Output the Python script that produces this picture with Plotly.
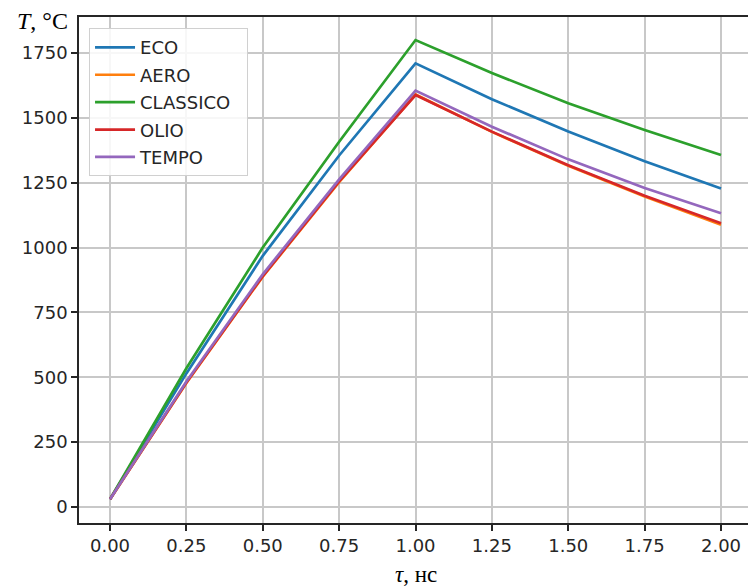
import plotly.graph_objects as go

tau = [0.0, 0.25, 0.5, 0.75, 1.0, 1.25, 1.5, 1.75, 2.0]

names = ["ECO", "AERO", "CLASSICO", "OLIO", "TEMPO"]
colors = ["#1f77b4", "#ff7f0e", "#2ca02c", "#d62728", "#9467bd"]

eco = [30, 515, 968, 1355, 1710, 1572, 1447, 1333, 1228]
aero = [30, 478, 888, 1252, 1590, 1446, 1315, 1197, 1088]
classico = [30, 535, 1000, 1408, 1800, 1673, 1556, 1453, 1357]
olio = [30, 480, 890, 1255, 1588, 1447, 1317, 1200, 1094]
tempo = [30, 484, 897, 1263, 1605, 1466, 1340, 1230, 1132]

series = [eco, aero, classico, olio, tempo]

x_ticks = [0.0, 0.25, 0.5, 0.75, 1.0, 1.25, 1.5, 1.75, 2.0]
x_tick_labels = ["0.00", "0.25", "0.50", "0.75", "1.00", "1.25", "1.50", "1.75", "2.00"]
y_ticks = [0, 250, 500, 750, 1000, 1250, 1500, 1750]
y_tick_labels = [str(v) for v in y_ticks]

fig = go.Figure()
for i, (n, c, s) in enumerate(zip(names, colors, series)):
    fig.add_trace(go.Scatter(x=tau, y=s, mode="lines", name=n + "  ",
                             line=dict(color=c, width=2.7),
                             legendgroup=f"g{i}"))

tick_font = dict(family="DejaVu Sans", size=18, color="#262626")

fig.update_layout(
    width=748, height=587,
    margin=dict(l=79, r=0, t=17, b=64),
    plot_bgcolor="white", paper_bgcolor="white",
    showlegend=True,
    legend=dict(x=0.015, y=0.978, xanchor="left", yanchor="top",
                bgcolor="rgba(255,255,255,0.85)", bordercolor="#d0d0d0", borderwidth=1,
                font=dict(family="DejaVu Sans", size=18, color="#262626"),
                tracegroupgap=1, itemwidth=40),
    xaxis=dict(range=[-0.1015, 2.0883], tickvals=x_ticks, ticktext=x_tick_labels,
               showgrid=True, gridcolor="#c8c8c8", gridwidth=1.5,
               showline=True, linecolor="#262626", linewidth=1.5, mirror=True,
               ticks="outside", ticklen=6, tickwidth=1.5, tickcolor="#262626",
               tickfont=tick_font, zeroline=False),
    yaxis=dict(range=[-61.7, 1888.8], tickvals=y_ticks, ticktext=y_tick_labels,
               showgrid=True, gridcolor="#c8c8c8", gridwidth=1.5,
               showline=True, linecolor="#262626", linewidth=1.5, mirror=False,
               ticks="outside", ticklen=6, tickwidth=1.5, tickcolor="#262626",
               tickfont=tick_font, zeroline=False),
    annotations=[
        dict(text="<i>T</i>, °C", xref="paper", yref="paper",
             x=(42 - 79) / 669, y=1 + (17 - 21) / 506, xanchor="center", yanchor="middle",
             showarrow=False, font=dict(family="Liberation Serif", size=24, color="#000")),
        dict(text="<i>τ</i>, нс", xref="paper", yref="paper",
             x=(416 - 79) / 669, y=(523 - 574) / 506, xanchor="center", yanchor="middle",
             showarrow=False, font=dict(family="Liberation Serif", size=23, color="#000")),
    ],
)

fig.write_html("out.html")
